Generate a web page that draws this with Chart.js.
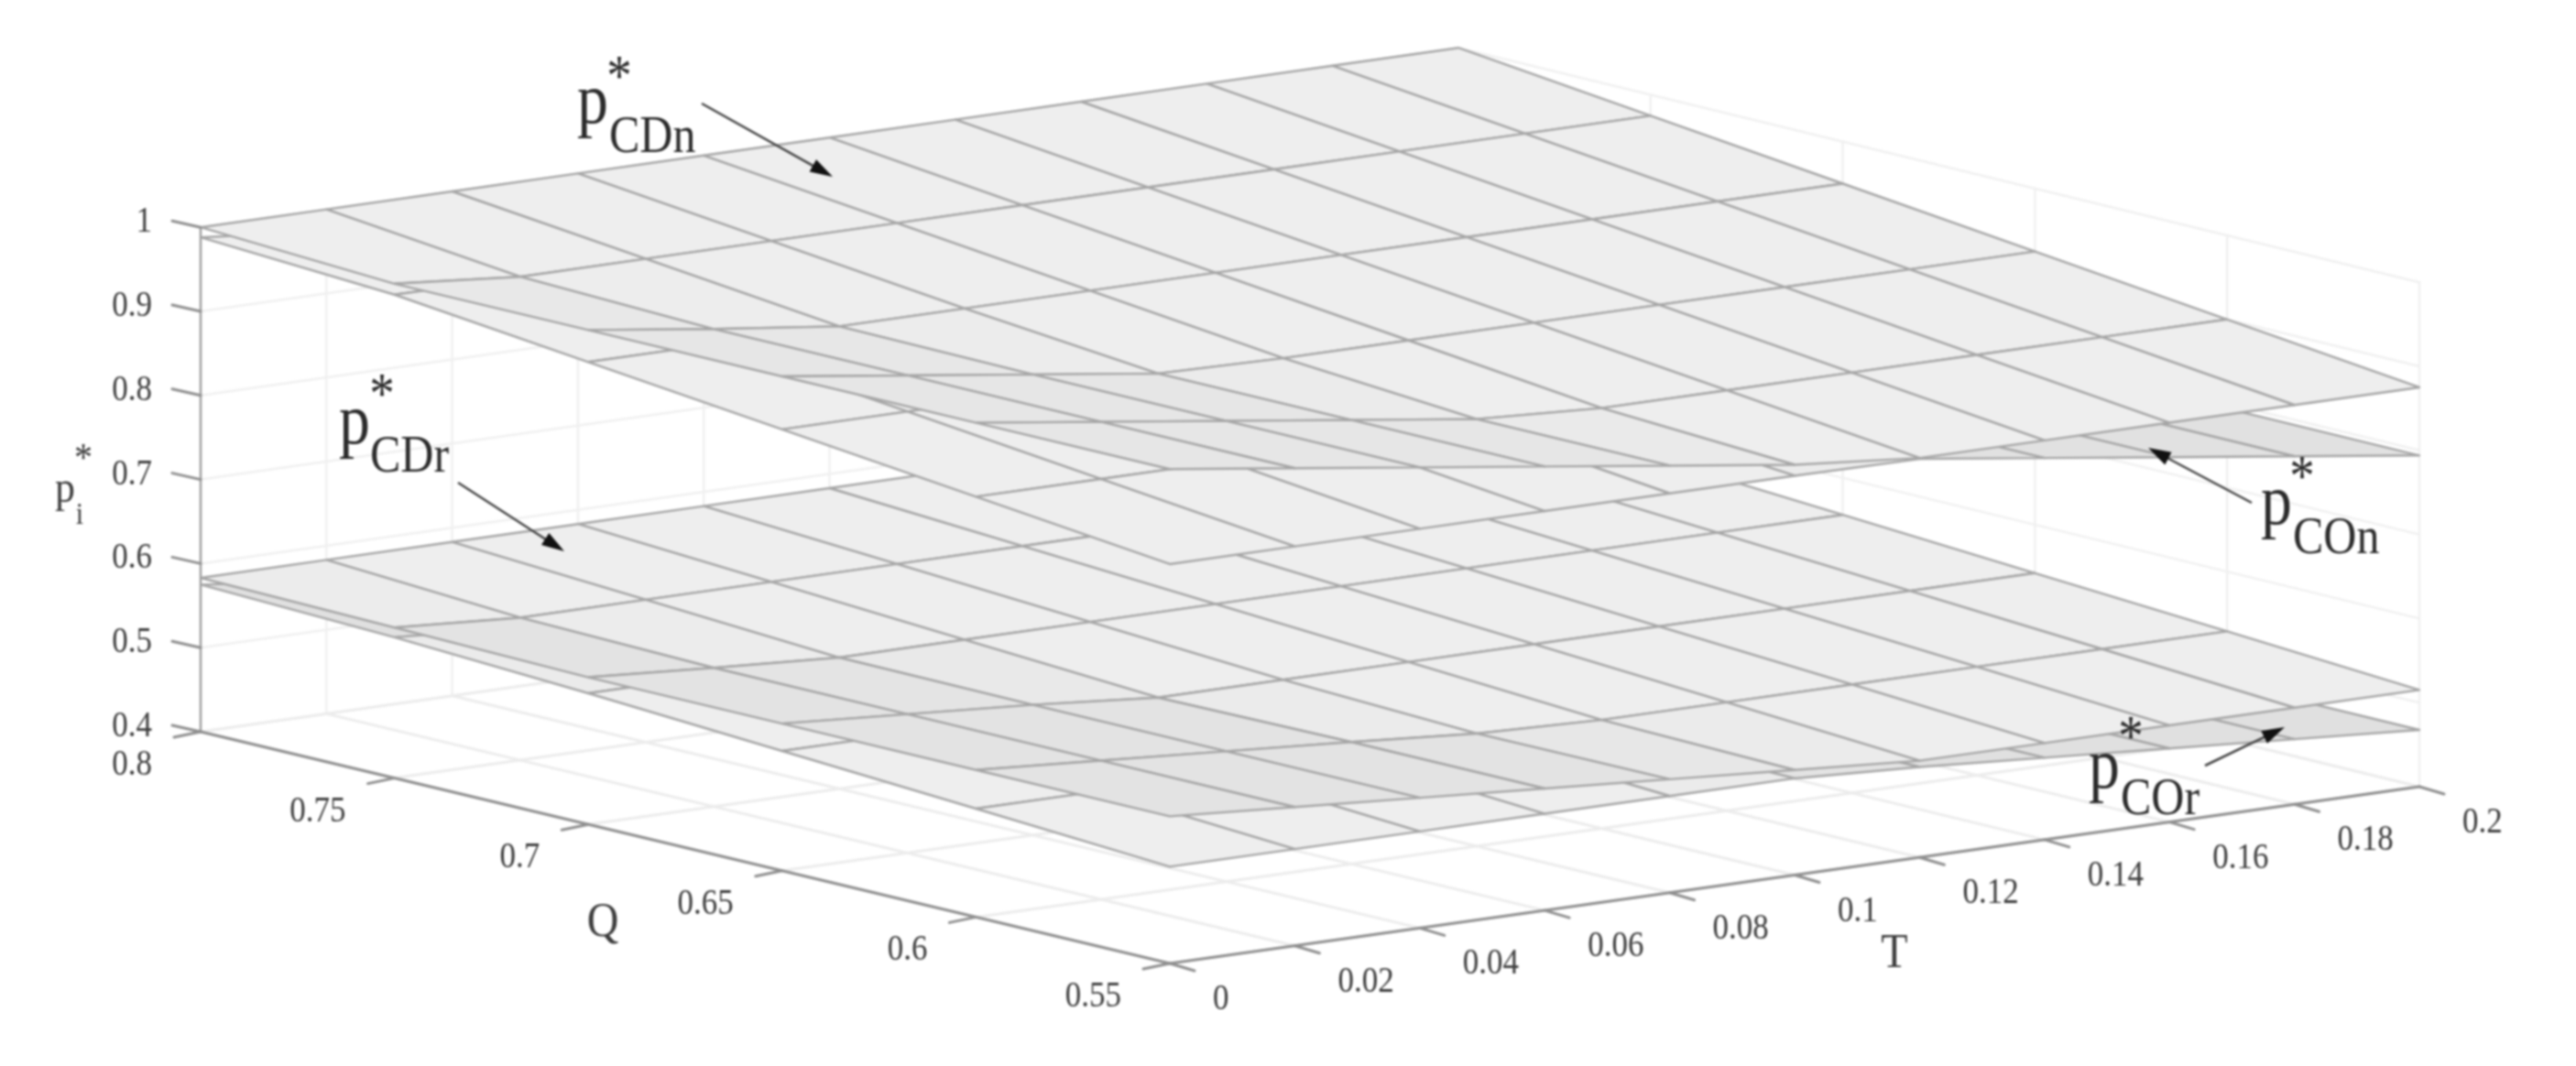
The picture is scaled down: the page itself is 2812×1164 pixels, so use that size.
<!DOCTYPE html>
<html><head><meta charset="utf-8">
<script src="https://cdn.jsdelivr.net/npm/chart.js@4/dist/chart.umd.min.js"></script>
<style>html,body{margin:0;padding:0;background:#fff}canvas{display:block;filter:blur(1.2px)}</style>
</head><body><canvas id="c" width="2812" height="1164"></canvas>
<script>
// ---- data ----
const T_VALUES = [0,0.02,0.04,0.06,0.08,0.1,0.12,0.14,0.16,0.18,0.2];
const Q_VALUES = [0.8,0.75,0.7,0.65,0.6,0.55];
const P_TICKS = [1,0.9,0.8,0.7,0.6,0.5,0.4];
const pCDn = [
 [1,1,1,1,1,1,1,1,1,1,1],
 [0.988,0.975,0.975,0.975,0.975,0.975,0.975,0.975,0.975,0.975,0.975],
 [0.988,0.968,0.95,0.95,0.95,0.95,0.95,0.95,0.95,0.95,0.95],
 [0.988,0.968,0.948,0.928,0.925,0.925,0.925,0.925,0.925,0.925,0.925],
 [0.988,0.968,0.948,0.928,0.908,0.9,0.9,0.9,0.9,0.9,0.9],
 [0.988,0.968,0.948,0.928,0.908,0.888,0.875,0.875,0.875,0.875,0.875]];
const pCOn = [
 [0.988,0.974,0.954,0.934,0.914,0.894,0.874,0.854,0.834,0.814,0.794],
 [0.975,0.974,0.954,0.934,0.914,0.894,0.874,0.854,0.834,0.814,0.794],
 [0.95,0.95,0.95,0.934,0.914,0.894,0.874,0.854,0.834,0.814,0.794],
 [0.925,0.925,0.925,0.925,0.914,0.894,0.874,0.854,0.834,0.814,0.794],
 [0.9,0.9,0.9,0.9,0.9,0.894,0.874,0.854,0.834,0.814,0.794],
 [0.875,0.875,0.875,0.875,0.875,0.875,0.874,0.854,0.834,0.814,0.794]];
const pCDr = [
 [0.583,0.583,0.583,0.583,0.583,0.583,0.583,0.583,0.583,0.583,0.583],
 [0.579,0.5695,0.5695,0.5695,0.5695,0.5695,0.5695,0.5695,0.5695,0.5695,0.5695],
 [0.575,0.565,0.556,0.556,0.556,0.556,0.556,0.556,0.556,0.556,0.556],
 [0.575,0.565,0.555,0.5425,0.5425,0.5425,0.5425,0.5425,0.5425,0.5425,0.5425],
 [0.575,0.565,0.555,0.545,0.534,0.529,0.529,0.529,0.529,0.529,0.529],
 [0.575,0.565,0.555,0.545,0.535,0.525,0.515,0.515,0.515,0.515,0.515]];
const pCOr = [
 [0.575,0.5575,0.5475,0.5375,0.5275,0.5175,0.5075,0.4975,0.4875,0.4775,0.4675],
 [0.5675,0.5575,0.5475,0.5375,0.5275,0.5175,0.5075,0.4975,0.4875,0.4775,0.4675],
 [0.556,0.556,0.5475,0.5375,0.5275,0.5175,0.5075,0.4975,0.4875,0.4775,0.4675],
 [0.5425,0.5425,0.5425,0.5375,0.5275,0.5175,0.5075,0.4975,0.4875,0.4775,0.4675],
 [0.529,0.529,0.529,0.529,0.5275,0.5175,0.5075,0.4975,0.4875,0.4775,0.4675],
 [0.515,0.515,0.515,0.515,0.515,0.515,0.5075,0.4975,0.4875,0.4775,0.4675]];
const T_LABELS = ['0','0.02','0.04','0.06','0.08','0.1','0.12','0.14','0.16','0.18','0.2'];
const Q_LABELS = ['0.8','0.75','0.7','0.65','0.6','0.55'];
const P_LABELS = ['1','0.9','0.8','0.7','0.6','0.5','0.4'];

// ---- view of the MATLAB-style 3D box, mapped on to the chart's x/y scales ----
const W = 2812, H = 1164;
const T_MAX = 0.2, Q_BACK = 0.8, Q_FRONT = 0.55, P_MIN = 0.4, P_MAX = 1;
function project(t, q, p) {
  const dq = Q_BACK - q;
  const far = (t / T_MAX) * (1 - dq / (Q_BACK - Q_FRONT));   // slight perspective toward the far corner
  return { x: 219 + 6820*t + 4232*dq + 9*far, y: 799 - 965*t + 1012*dq - 918*(p - P_MIN) - 3*far };
}
const datasets = [];
function addLine(pts, color, width) {
  datasets.push({ data: pts, showLine: true, fill: false, borderColor: color, borderWidth: width,
    pointRadius: 0, tension: 0, clip: false, order: -datasets.length, borderCapStyle: 'round' });
}
// grid: walls and floor
const WALL = '#f0f0f0', FLOOR = '#ececec';
P_TICKS.forEach(p => addLine([project(0,Q_BACK,p), project(T_MAX,Q_BACK,p), project(T_MAX,Q_FRONT,p)], WALL, 2.5));
T_VALUES.forEach(t => {
  addLine([project(t,Q_FRONT,P_MIN), project(t,Q_BACK,P_MIN)], FLOOR, 3);
  addLine([project(t,Q_BACK,P_MIN), project(t,Q_BACK,P_MAX)], WALL, 2.5);
});
Q_VALUES.forEach(q => {
  addLine([project(0,q,P_MIN), project(T_MAX,q,P_MIN)], FLOOR, 3);
  addLine([project(T_MAX,q,P_MIN), project(T_MAX,q,P_MAX)], WALL, 2.5);
});
// surfaces, painted back to front; faces that fall steeply with T are a little darker
const MESH = '#a6a6a6';
function addSurface(v, slopeFull, depth) {
  for (let i = 0; i < Q_VALUES.length - 1; i++) {
    for (let j = T_VALUES.length - 2; j >= 0; j--) {
      const corners = [[i,j],[i,j+1],[i+1,j+1],[i+1,j],[i,j]];
      const dT = T_VALUES[j+1] - T_VALUES[j];
      const slope = ((v[i][j]-v[i][j+1]) + (v[i+1][j]-v[i+1][j+1])) / 2 / dT / slopeFull;
      const g = Math.round(238 - depth * Math.max(0, Math.min(1, (slope - 0.35) / 0.65)));
      const fillCol = 'rgb(' + g + ',' + g + ',' + g + ')';
      datasets.push({
        data: corners.map(c => project(T_VALUES[c[1]], Q_VALUES[c[0]], v[c[0]][c[1]])),
        showLine: true, fill: 'shape', backgroundColor: fillCol, borderColor: MESH, borderWidth: 2.4,
        pointRadius: 0, tension: 0, clip: false, order: -datasets.length, borderJoinStyle: 'round'
      });
    }
  }
}
addSurface(pCOr, 0.5, 14);
addSurface(pCDr, 0.5, 11);
addSurface(pCOn, 1, 13);
addSurface(pCDn, 1, 8);
// axes and ticks
const AXIS = '#8f8f8f';
addLine([project(0,Q_BACK,P_MIN), project(0,Q_BACK,P_MAX)], '#a0a0a0', 2.5);
addLine([project(0,Q_BACK,P_MIN), project(0,Q_FRONT,P_MIN), project(T_MAX,Q_FRONT,P_MIN)], AXIS, 3);
const tick = (a, dx, dy) => addLine([a, { x: a.x + dx, y: a.y + dy }], AXIS, 3);
P_TICKS.forEach(p => tick(project(0,Q_BACK,p), -31, -7));
Q_VALUES.forEach(q => tick(project(0,q,P_MIN), -29, 6));
T_VALUES.forEach(t => tick(project(t,Q_FRONT,P_MIN), 27, 8));

const SERIF = '"Liberation Serif","Times New Roman",serif';
const TEXT = '#3c3c3c';
// p* annotations: [subscript, p centre x, p baseline y, subscript left x, subscript baseline y, star x, star centre y]
const NOTES = [
  ['CDn', 647, 134, 665, 166, 676, 76],
  ['CDr', 387, 484, 404, 515, 417, 423],
  ['COn', 2485, 572, 2503, 604, 2513, 513],
  ['COr', 2297, 860, 2315, 889, 2326, 797]
];
const ARROWS = [[766,113,909,193],[500,527,616,602],[2458,549,2345,489],[2407,836,2494,794]];

const annotate = {
  id: 'annotate',
  afterDraw(chart) {
    const c = chart.ctx, sx = chart.scales.x, sy = chart.scales.y;
    const at = o => ({ x: sx.getPixelForValue(o.x), y: sy.getPixelForValue(o.y) });
    const txt = (s, x, y, size, align, col, stretch) => {
      c.save();
      c.translate(x, y); c.scale(1, stretch || 1.12);
      c.font = size + 'px ' + SERIF; c.textAlign = align; c.textBaseline = 'alphabetic';
      c.fillStyle = col || TEXT; c.fillText(s, 0, 0);
      c.restore();
    };
    c.save();
    P_LABELS.forEach((s, i) => { const a = at(project(0,Q_BACK,P_TICKS[i])); txt(s, a.x - 53, a.y + 5, 35, 'right'); });
    Q_LABELS.forEach((s, i) => { const a = at(project(0,Q_VALUES[i],P_MIN)); txt(s, a.x - 53, a.y + 47, 35, 'right'); });
    T_LABELS.forEach((s, i) => { const a = at(project(T_VALUES[i],Q_FRONT,P_MIN)); txt(s, a.x + 47, a.y + 50, 35, 'left'); });
    txt('Q', 658, 1022, 48, 'center');
    txt('T', 2068, 1056, 48, 'center');
    txt('p', 71, 548, 44, 'center');
    txt('i', 87, 572, 30, 'center');
    txt('*', 91, 514, 40, 'center');
    NOTES.forEach(n => {
      txt('p', n[1], n[2], 68, 'center', '#2a2a2a', 1.15);
      txt(n[0], n[3], n[4], 50, 'left', '#2a2a2a', 1.15);
      txt('*', n[5], n[6] + 28, 55, 'center', '#2a2a2a', 1.15);
    });
    ARROWS.forEach(a => {
      const ang = Math.atan2(a[3]-a[1], a[2]-a[0]), L = 26, w = 0.3;
      c.strokeStyle = '#444'; c.lineWidth = 2.5; c.fillStyle = '#111';
      c.beginPath(); c.moveTo(a[0], a[1]); c.lineTo(a[2]-Math.cos(ang)*L*0.8, a[3]-Math.sin(ang)*L*0.8); c.stroke();
      c.beginPath(); c.moveTo(a[2], a[3]);
      c.lineTo(a[2]-L*Math.cos(ang-w), a[3]-L*Math.sin(ang-w));
      c.lineTo(a[2]-L*Math.cos(ang+w), a[3]-L*Math.sin(ang+w));
      c.closePath(); c.fill();
    });
    c.restore();
  }
};

new Chart(document.getElementById('c'), {
  type: 'scatter',
  data: { datasets },
  plugins: [annotate],
  options: {
    responsive: false, animation: false, events: [],
    layout: { padding: 0 },
    plugins: { legend: { display: false }, tooltip: { enabled: false }, filler: { propagate: false } },
    scales: {
      x: { type: 'linear', min: 0, max: W, display: false },
      y: { type: 'linear', min: 0, max: H, reverse: true, display: false }
    }
  }
});
</script></body></html>
